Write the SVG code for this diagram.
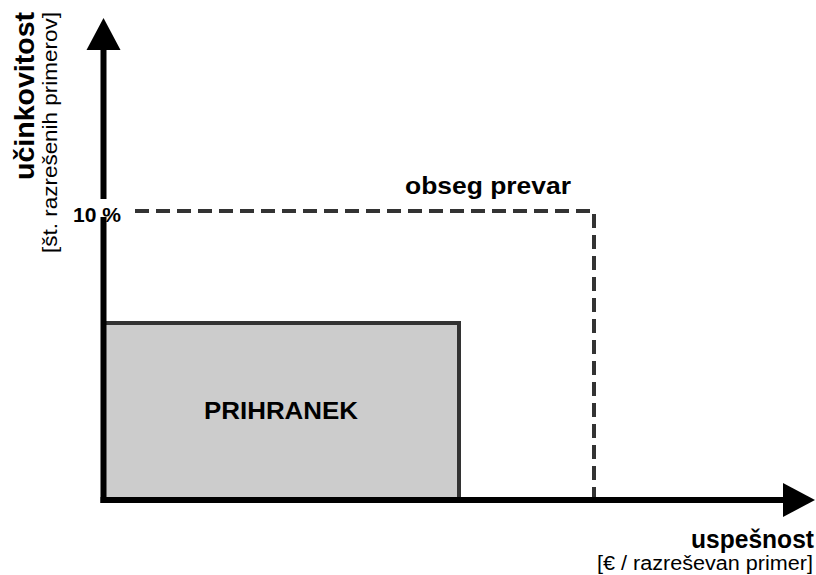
<svg xmlns="http://www.w3.org/2000/svg" width="816" height="575" viewBox="0 0 816 575">
  <style>
    .lbl { font-family: "Liberation Sans", Arial, Helvetica, sans-serif; fill: #000; }
    .b { font-weight: bold; }
    .axis { stroke: #000; stroke-width: 6; fill: none; }
    .dash { stroke: #333; stroke-width: 4; fill: none; stroke-dasharray: 14 7; }
  </style>
  <rect width="816" height="575" fill="#fff"/>

  <!-- savings region -->
  <g id="prihranek">
    <rect x="104" y="323" width="355" height="176" fill="#cccccc" stroke="#333" stroke-width="4"/>
    <text class="lbl b" x="204" y="419" font-size="24" textLength="154" lengthAdjust="spacingAndGlyphs">PRIHRANEK</text>
  </g>

  <!-- fraud range boundary -->
  <g id="obseg">
    <path class="dash" d="M135 211 H594 V498"/>
    <text class="lbl b" x="405" y="194" font-size="24" textLength="166" lengthAdjust="spacingAndGlyphs">obseg prevar</text>
  </g>

  <!-- axes -->
  <g id="connectors">
    <line class="axis" x1="103.5" y1="503" x2="103.5" y2="46"/>
    <polygon points="103.5,18 86.5,50 120.5,50" fill="#000"/>
    <line class="axis" x1="100.5" y1="500" x2="786" y2="500"/>
    <polygon points="815,500 783,483 783,517" fill="#000"/>
  </g>

  <!-- 10 % tick label on y axis -->
  <g id="tick10">
    <rect x="72" y="199" width="52" height="18" fill="#fff"/>
    <text class="lbl b" x="73" y="222" font-size="21" textLength="48" lengthAdjust="spacingAndGlyphs">10 %</text>
  </g>

  <!-- y axis title -->
  <g id="y-title">
    <text class="lbl b" transform="translate(34 180) rotate(-90)" font-size="27" textLength="168" lengthAdjust="spacingAndGlyphs">učinkovitost</text>
    <text class="lbl" transform="translate(57 253) rotate(-90)" font-size="21" textLength="241" lengthAdjust="spacingAndGlyphs">[št. razrešenih primerov]</text>
  </g>

  <!-- x axis title -->
  <g id="x-title">
    <text class="lbl b" x="691" y="548" font-size="25" textLength="123" lengthAdjust="spacingAndGlyphs">uspešnost</text>
    <text class="lbl" x="597" y="570" font-size="20" textLength="216" lengthAdjust="spacingAndGlyphs">[€ / razreševan primer]</text>
  </g>
</svg>
